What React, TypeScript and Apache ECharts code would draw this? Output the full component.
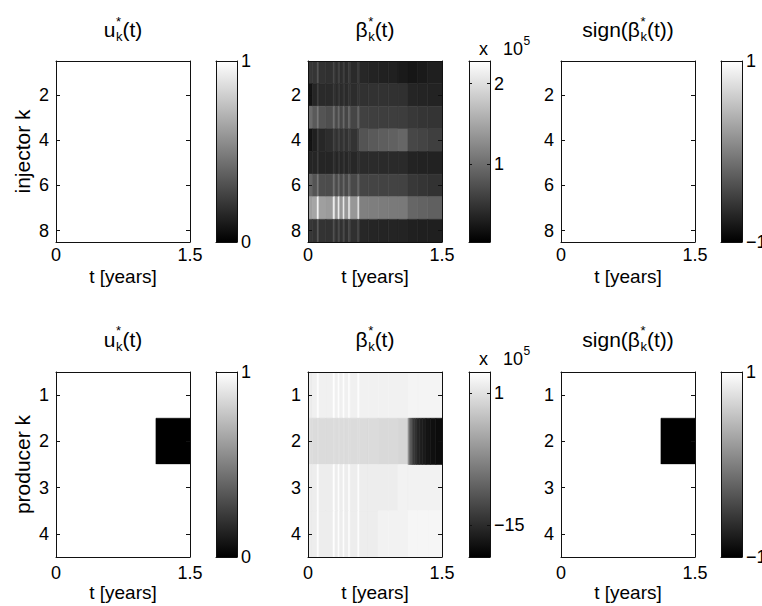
import React, { useEffect, useRef } from "react";
import * as echarts from "echarts";

// ---------- data ----------
const tEdges = [0, 0.05, 0.103, 0.122, 0.2, 0.281, 0.303, 0.336, 0.355, 0.392, 0.41, 0.454, 0.473, 0.558, 0.576, 0.676, 0.787, 0.898, 1.008, 1.119, 1.23, 1.341, 1.5];
const uEdges = [0, 1.119, 1.5];
const injectorK = [1, 2, 3, 4, 5, 6, 7, 8];
const producerK = [1, 2, 3, 4];

const uInjector = [[1, 1], [1, 1], [1, 1], [1, 1], [1, 1], [1, 1], [1, 1], [1, 1]];
const uProducer = [[1, 1], [1, 0], [1, 1], [1, 1]];
const signInjector = [[1, 1], [1, 1], [1, 1], [1, 1], [1, 1], [1, 1], [1, 1], [1, 1]];
const signProducer = [[1, 1], [1, -1], [1, 1], [1, 1]];

// beta*(t) in units of 1e5
const betaInjector = [
  [0.52, 0.50, 0.70, 0.47, 0.45, 0.62, 0.44, 0.60, 0.43, 0.58, 0.42, 0.58, 0.40, 0.56, 0.37, 0.34, 0.32, 0.31, 0.26, 0.22, 0.26, 0.30],
  [0.21, 0.36, 0.50, 0.40, 0.40, 0.50, 0.40, 0.50, 0.41, 0.50, 0.41, 0.50, 0.42, 0.50, 0.46, 0.47, 0.47, 0.46, 0.45, 0.36, 0.35, 0.34],
  [0.98, 0.82, 1.04, 0.77, 0.72, 0.98, 0.68, 0.96, 0.66, 0.95, 0.65, 0.95, 0.64, 0.93, 0.60, 0.59, 0.58, 0.58, 0.57, 0.52, 0.50, 0.49],
  [0.21, 0.30, 0.48, 0.37, 0.43, 0.59, 0.46, 0.60, 0.47, 0.60, 0.47, 0.60, 0.48, 0.62, 0.77, 0.82, 0.86, 0.89, 0.93, 0.66, 0.63, 0.59],
  [0.36, 0.36, 0.48, 0.36, 0.36, 0.47, 0.36, 0.47, 0.37, 0.47, 0.37, 0.47, 0.37, 0.47, 0.41, 0.41, 0.40, 0.40, 0.40, 0.34, 0.33, 0.33],
  [0.93, 0.77, 1.04, 0.71, 0.70, 0.98, 0.69, 0.97, 0.68, 0.96, 0.68, 0.96, 0.67, 0.95, 0.64, 0.63, 0.62, 0.62, 0.61, 0.52, 0.50, 0.47],
  [1.43, 1.49, 2.21, 1.43, 1.40, 2.12, 1.38, 2.10, 1.37, 2.08, 1.37, 2.06, 1.36, 2.02, 1.16, 1.14, 1.12, 1.11, 1.10, 0.93, 0.90, 0.88],
  [0.52, 0.48, 0.75, 0.48, 0.47, 0.70, 0.46, 0.68, 0.46, 0.68, 0.45, 0.67, 0.45, 0.66, 0.37, 0.36, 0.35, 0.35, 0.34, 0.31, 0.30, 0.30],
];
const betaProducer = [
  [2.03, 2.25, 3.38, 2.25, 2.25, 3.38, 2.25, 3.38, 2.25, 3.38, 2.25, 3.38, 2.25, 3.38, 2.36, 2.36, 2.36, 2.36, 2.36, 2.59, 2.59, 2.59],
  [0.68, 0.45, 0.68, 0.45, 0.45, 0.68, 0.45, 0.68, 0.45, 0.68, 0.45, 0.68, 0.45, 0.68, 0.45, 0.45, 0.23, 0.23, 0.0],
  [2.03, 2.03, 3.38, 2.03, 2.03, 3.38, 2.03, 3.38, 2.03, 3.38, 2.03, 3.38, 2.03, 3.38, 2.03, 2.03, 2.03, 2.03, 2.48, 2.48, 2.48, 2.48],
  [2.03, 2.03, 3.38, 2.03, 2.03, 3.38, 2.03, 3.38, 2.03, 3.38, 2.03, 3.38, 2.03, 3.38, 2.03, 2.03, 2.48, 2.48, 2.48, 2.81, 2.81, 2.81],
];
const betaProducerK2TailEdges = [1.119, 1.13, 1.14, 1.155, 1.17, 1.19, 1.215, 1.245, 1.28, 1.32, 1.37, 1.43, 1.5];
const betaProducerK2Tail = [-4.95, -8.1, -10.35, -12.15, -13.5, -14.6, -15.5, -16.2, -16.65, -17.1, -17.55, -17.8];

const xTicks = [0, 1.5];
const injectorTicks = [2, 4, 6, 8];
const producerTicks = [1, 2, 3, 4];

const uRange = [0, 1];
const uBarTicks = [0, 1];
const signRange = [-1, 1];
const signBarTicks = [-1, 1];
const betaInjRange = [0.03, 2.28];
const betaInjBarTicks = [1, 2];
const betaProdRange = [-18.9, 3.6];
const betaProdBarTicks = [-15, 1];

// ---------- helpers ----------
function buildCells(edges: number[], rows: number[][], ks: number[]) {
  const out: number[][] = [];
  rows.forEach((row, r) => {
    row.forEach((v, i) => out.push([edges[i], edges[i + 1], ks[r], v]));
  });
  return out;
}

const FONT = '"Liberation Sans", Arial, Helvetica, sans-serif';
const TXT = "#000";

let measureCtx: CanvasRenderingContext2D | null = null;
function measure(text: string, size: number) {
  if (!measureCtx) measureCtx = document.createElement("canvas").getContext("2d");
  if (!measureCtx) return text.length * size * 0.55;
  measureCtx.font = `${size}px "Liberation Sans", Arial, sans-serif`;
  return measureCtx.measureText(text).width;
}

type Part = [string, "m" | "sub" | "sup"];
const uTitle: Part[] = [["u", "m"], ["k", "sub"], ["*", "sup"], ["(t)", "m"]];
const betaTitle: Part[] = [["β", "m"], ["k", "sub"], ["*", "sup"], ["(t)", "m"]];
const signTitle: Part[] = [["sign(β", "m"], ["k", "sub"], ["*", "sup"], ["(t))", "m"]];
const expLabel: Part[] = [["x   10", "m"], ["5", "sup"]];

function layoutParts(parts: Part[], cx: number | null, left: number | null, cy: number, big: number, small: number, subDy: number, supDy: number) {
  const placed: { t: string; x: number; size: number; dy: number }[] = [];
  let cur = 0;
  let subX = 0;
  let hasSub = false;
  for (const [t, kind] of parts) {
    if (kind === "m") {
      const w = measure(t, big);
      placed.push({ t, x: cur, size: big, dy: 0 });
      cur += w;
      hasSub = false;
    } else if (kind === "sub") {
      const w = measure(t, small);
      subX = cur;
      hasSub = true;
      placed.push({ t, x: cur + 0.5, size: small, dy: subDy });
      cur += w + 0.5;
    } else {
      const w = measure(t, small);
      const x = hasSub ? subX : cur;
      placed.push({ t, x: x + 0.5, size: small, dy: supDy });
      cur = Math.max(cur, x + w + 0.5);
    }
  }
  const start = cx !== null ? cx - cur / 2 : (left as number);
  return placed.map((p) => ({
    type: "text",
    x: start + p.x,
    y: cy + p.dy,
    silent: true,
    style: { text: p.t, fontSize: p.size, fontFamily: FONT, fill: TXT, align: "left", verticalAlign: "middle" },
  }));
}

// ---------- layout ----------
const colLeft = [56, 308, 561];
const plotW = 134;
const cbLeft = [216, 469, 721];
const cbW = 21;
const rowTop = [61, 372];
const rowH = [181, 185];
const titleY = [29.5, 339];
const expY = [48.5, 359];
const xLabelMargin = [4, 7];
const xNameGap = [25, 24];

const betaProducerCells = (() => {
  const c = buildCells(tEdges, betaProducer, producerK);
  betaProducerK2Tail.forEach((v, i) => c.push([betaProducerK2TailEdges[i], betaProducerK2TailEdges[i + 1], 2, v]));
  return c;
})();

const panels = [
  { row: 0, col: 0, data: buildCells(uEdges, uInjector, injectorK), range: uRange, barTicks: uBarTicks, nK: 8, yTicks: injectorTicks, title: uTitle, yName: "injector k", exp: false },
  { row: 0, col: 1, data: buildCells(tEdges, betaInjector, injectorK), range: betaInjRange, barTicks: betaInjBarTicks, nK: 8, yTicks: injectorTicks, title: betaTitle, yName: "", exp: true },
  { row: 0, col: 2, data: buildCells(uEdges, signInjector, injectorK), range: signRange, barTicks: signBarTicks, nK: 8, yTicks: injectorTicks, title: signTitle, yName: "", exp: false },
  { row: 1, col: 0, data: buildCells(uEdges, uProducer, producerK), range: uRange, barTicks: uBarTicks, nK: 4, yTicks: producerTicks, title: uTitle, yName: "producer k", exp: false },
  { row: 1, col: 1, data: betaProducerCells, range: betaProdRange, barTicks: betaProdBarTicks, nK: 4, yTicks: producerTicks, title: betaTitle, yName: "", exp: true },
  { row: 1, col: 2, data: buildCells(uEdges, signProducer, producerK), range: signRange, barTicks: signBarTicks, nK: 4, yTicks: producerTicks, title: signTitle, yName: "", exp: false },
];

const lineStyle = { color: "#111", width: 1 };
const fmt = (v: number) => (v < 0 ? "\u2212" + Math.abs(v) : String(v));
const AZ = 10;

function buildOption() {
  const grid: any[] = [];
  const xAxis: any[] = [];
  const yAxis: any[] = [];
  const series: any[] = [];
  const visualMap: any[] = [];
  const graphic: any[] = [];

  panels.forEach((p, i) => {
    const top = rowTop[p.row];
    const h = rowH[p.row];
    grid.push({ left: colLeft[p.col], top, width: plotW, height: h, outerBoundsMode: "none", containLabel: false });
    grid.push({ left: cbLeft[p.col], top, width: cbW, height: h, outerBoundsMode: "none", containLabel: false });
    const gH = 2 * i;
    const gC = 2 * i + 1;

    // heatmap axes
    xAxis.push({
      type: "value", gridIndex: gH, position: "bottom", min: 0, max: 1.5, z: AZ,
      axisLine: { show: true, onZero: false, lineStyle },
      axisTick: { show: true, inside: true, length: 4, customValues: xTicks, lineStyle },
      axisLabel: { show: true, customValues: xTicks, margin: xLabelMargin[p.row], fontSize: 18, color: TXT, fontFamily: FONT, formatter: (v: number) => String(v) },
      splitLine: { show: false },
      name: "t [years]", nameLocation: "middle", nameGap: xNameGap[p.row],
      nameTextStyle: { fontSize: 19, color: TXT, fontFamily: FONT, verticalAlign: "top" },
    });
    xAxis.push({
      type: "value", gridIndex: gH, position: "top", min: 0, max: 1.5, z: AZ,
      axisLine: { show: true, onZero: false, lineStyle },
      axisTick: { show: true, inside: true, length: 4, customValues: xTicks, lineStyle },
      axisLabel: { show: false }, splitLine: { show: false },
    });
    // colorbar x axes
    xAxis.push({
      type: "value", gridIndex: gC, position: "bottom", min: 0, max: 1, z: AZ,
      axisLine: { show: true, onZero: false, lineStyle }, axisTick: { show: false }, axisLabel: { show: false }, splitLine: { show: false },
    });
    xAxis.push({
      type: "value", gridIndex: gC, position: "top", min: 0, max: 1, z: AZ,
      axisLine: { show: true, onZero: false, lineStyle }, axisTick: { show: false }, axisLabel: { show: false }, splitLine: { show: false },
    });

    yAxis.push({
      type: "value", gridIndex: gH, position: "left", inverse: true, min: 0.5, max: p.nK + 0.5, z: AZ,
      axisLine: { show: true, onZero: false, lineStyle },
      axisTick: { show: true, inside: true, length: 4, customValues: p.yTicks, lineStyle },
      axisLabel: { show: true, customValues: p.yTicks, margin: 7, fontSize: 18, color: TXT, fontFamily: FONT },
      splitLine: { show: false },
      name: p.yName, nameLocation: "middle", nameGap: 23, nameRotate: 90,
      nameTextStyle: { fontSize: 21, color: TXT, fontFamily: FONT },
    });
    yAxis.push({
      type: "value", gridIndex: gH, position: "right", inverse: true, min: 0.5, max: p.nK + 0.5, z: AZ,
      axisLine: { show: true, onZero: false, lineStyle },
      axisTick: { show: true, inside: true, length: 4, customValues: p.yTicks, lineStyle },
      axisLabel: { show: false }, splitLine: { show: false },
    });
    yAxis.push({
      type: "value", gridIndex: gC, position: "left", min: p.range[0], max: p.range[1], z: AZ,
      axisLine: { show: true, onZero: false, lineStyle },
      axisTick: { show: true, inside: true, length: 3, customValues: p.barTicks, lineStyle },
      axisLabel: { show: false }, splitLine: { show: false },
    });
    yAxis.push({
      type: "value", gridIndex: gC, position: "right", min: p.range[0], max: p.range[1], z: AZ,
      axisLine: { show: true, onZero: false, lineStyle },
      axisTick: { show: true, inside: true, length: 3, customValues: p.barTicks, lineStyle },
      axisLabel: { show: true, customValues: p.barTicks, margin: 4, fontSize: 18, color: TXT, fontFamily: FONT, formatter: fmt },
      splitLine: { show: false },
    });

    visualMap.push({
      type: "continuous", show: false, seriesIndex: i, dimension: 3,
      min: p.range[0], max: p.range[1], inRange: { color: ["#000000", "#ffffff"] },
    });

    // titles
    const cx = colLeft[p.col] + plotW / 2;
    graphic.push(...layoutParts(p.title, cx, null, titleY[p.row], 21, 13, 7, -8.5));
    if (p.exp) graphic.push(...layoutParts(expLabel, null, cbLeft[p.col] + 10, expY[p.row], 18, 12, 6, -8));
  });

  panels.forEach((p, i) => {
    series.push({
      type: "custom", xAxisIndex: 4 * i, yAxisIndex: 4 * i, clip: true, silent: true, z: 2,
      data: p.data, encode: { x: [0, 1], y: 2 },
      renderItem: (params: any, api: any) => {
        const a = api.coord([api.value(0), api.value(2) - 0.5]);
        const b = api.coord([api.value(1), api.value(2) + 0.5]);
        const c = api.visual("color");
        return {
          type: "rect",
          shape: { x: Math.min(a[0], b[0]), y: Math.min(a[1], b[1]), width: Math.abs(b[0] - a[0]), height: Math.abs(b[1] - a[1]) },
          style: { fill: c, stroke: c, lineWidth: 0.6 },
        };
      },
    });
  });
  panels.forEach((p, i) => {
    series.push({
      type: "custom", xAxisIndex: 4 * i + 2, yAxisIndex: 4 * i + 2, clip: true, silent: true, z: 2,
      data: [[0, 1, p.range[0], p.range[1]]], encode: { x: [0, 1], y: [2, 3] },
      renderItem: (params: any, api: any) => {
        const a = api.coord([api.value(0), api.value(3)]);
        const b = api.coord([api.value(1), api.value(2)]);
        return {
          type: "rect",
          shape: { x: a[0], y: a[1], width: b[0] - a[0], height: b[1] - a[1] },
          style: {
            fill: { type: "linear", x: 0, y: 0, x2: 0, y2: 1, colorStops: [{ offset: 0, color: "#ffffff" }, { offset: 1, color: "#000000" }] },
          },
        };
      },
    });
  });

  return { animation: false, backgroundColor: "#fff", grid, xAxis, yAxis, series, visualMap, graphic };
}

export default function App() {
  const ref = useRef<HTMLDivElement>(null);
  useEffect(() => {
    if (!ref.current) return;
    const chart = echarts.init(ref.current, null, { renderer: "svg" });
    chart.setOption(buildOption() as any);
    return () => chart.dispose();
  }, []);
  return <div ref={ref} style={{ position: "fixed", left: 0, top: 0, width: 762, height: 606, background: "#fff" }} />;
}
